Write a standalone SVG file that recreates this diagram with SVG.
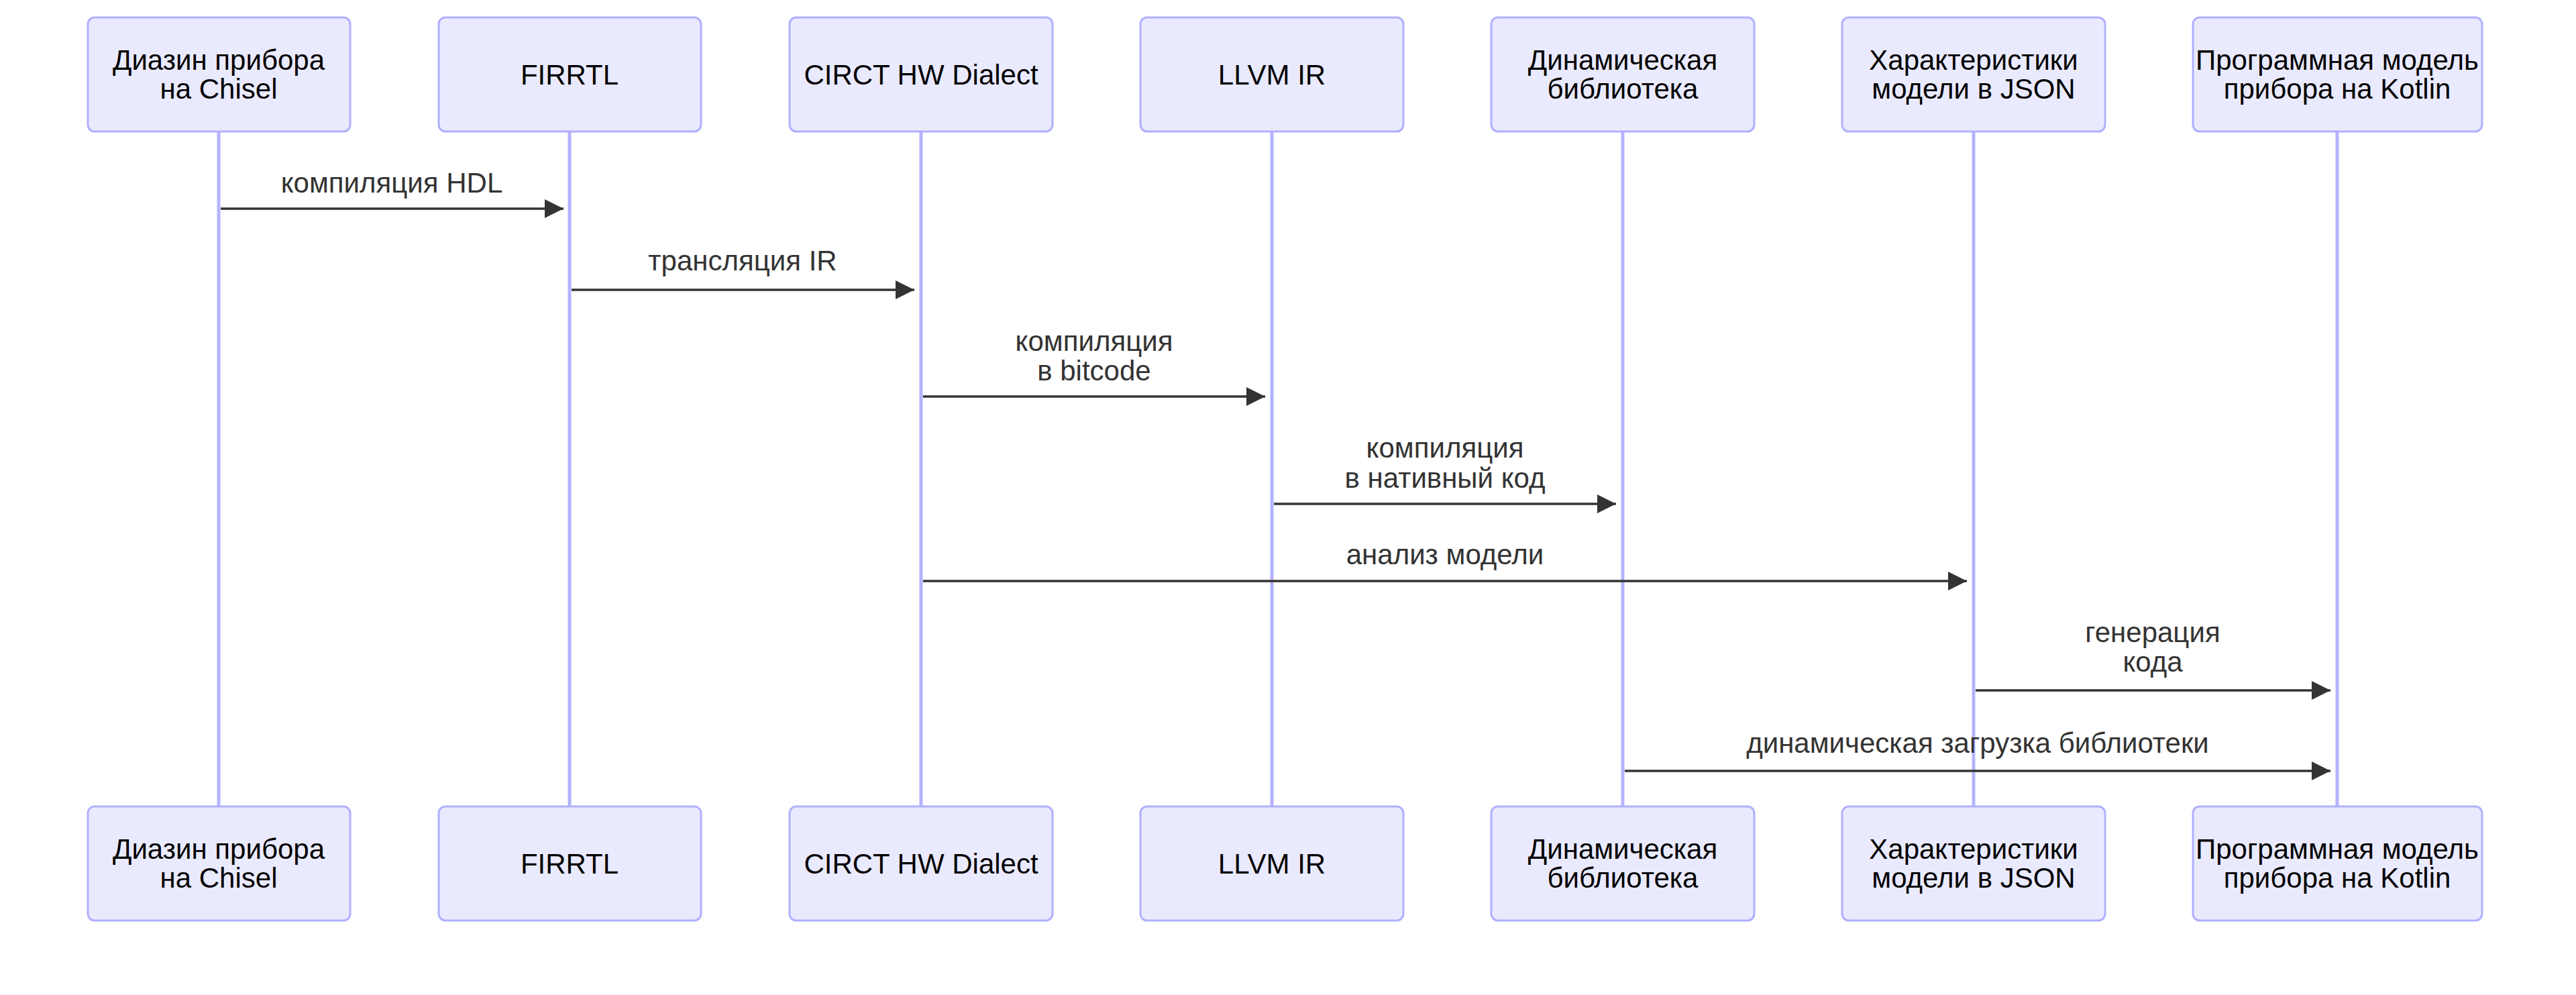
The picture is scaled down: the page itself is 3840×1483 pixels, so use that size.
<svg xmlns="http://www.w3.org/2000/svg" width="3840" height="1483" viewBox="0 0 3840 1483">
<style>
.actor{fill:#EAEAFF;stroke:#b0b0ff;stroke-width:3}
.atext{font-family:"Liberation Sans",Arial,sans-serif;font-size:42px;fill:#000;text-anchor:middle}
.life{stroke:#b3b3ff;stroke-width:5}
.msg{stroke:#333;stroke-width:3.5;fill:none}
.mtext{font-family:"Liberation Sans",Arial,sans-serif;font-size:42px;fill:#333;text-anchor:middle}
</style>
<defs>
<marker id="arrow" markerUnits="userSpaceOnUse" viewBox="0 0 10 10" refX="10" refY="5" markerWidth="28" markerHeight="28" orient="auto">
<path d="M0,0 L10,5 L0,10 z" fill="#333"/>
</marker>
</defs>
<rect width="3840" height="1483" fill="#fff"/>
<g id="lifelines">
<line class="life" x1="326" y1="196" x2="326" y2="1202"/>
<line class="life" x1="849" y1="196" x2="849" y2="1202"/>
<line class="life" x1="1373" y1="196" x2="1373" y2="1202"/>
<line class="life" x1="1896" y1="196" x2="1896" y2="1202"/>
<line class="life" x1="2419" y1="196" x2="2419" y2="1202"/>
<line class="life" x1="2942" y1="196" x2="2942" y2="1202"/>
<line class="life" x1="3484" y1="196" x2="3484" y2="1202"/>
</g>
<g id="actor-chisel">
<rect class="actor" x="131" y="26" width="391" height="170" rx="10"/>
<text class="atext" x="326" y="104">Диазин прибора</text>
<text class="atext" x="326" y="147">на Chisel</text>
<rect class="actor" x="131" y="1202" width="391" height="170" rx="10"/>
<text class="atext" x="326" y="1280">Диазин прибора</text>
<text class="atext" x="326" y="1323">на Chisel</text>
</g>
<g id="actor-firrtl">
<rect class="actor" x="654" y="26" width="391" height="170" rx="10"/>
<text class="atext" x="849" y="126">FIRRTL</text>
<rect class="actor" x="654" y="1202" width="391" height="170" rx="10"/>
<text class="atext" x="849" y="1302">FIRRTL</text>
</g>
<g id="actor-circt">
<rect class="actor" x="1177" y="26" width="392" height="170" rx="10"/>
<text class="atext" x="1373" y="126">CIRCT HW Dialect</text>
<rect class="actor" x="1177" y="1202" width="392" height="170" rx="10"/>
<text class="atext" x="1373" y="1302">CIRCT HW Dialect</text>
</g>
<g id="actor-llvm">
<rect class="actor" x="1700" y="26" width="392" height="170" rx="10"/>
<text class="atext" x="1896" y="126">LLVM IR</text>
<rect class="actor" x="1700" y="1202" width="392" height="170" rx="10"/>
<text class="atext" x="1896" y="1302">LLVM IR</text>
</g>
<g id="actor-lib">
<rect class="actor" x="2223" y="26" width="392" height="170" rx="10"/>
<text class="atext" x="2419" y="104">Динамическая</text>
<text class="atext" x="2419" y="147">библиотека</text>
<rect class="actor" x="2223" y="1202" width="392" height="170" rx="10"/>
<text class="atext" x="2419" y="1280">Динамическая</text>
<text class="atext" x="2419" y="1323">библиотека</text>
</g>
<g id="actor-json">
<rect class="actor" x="2746" y="26" width="392" height="170" rx="10"/>
<text class="atext" x="2942" y="104">Характеристики</text>
<text class="atext" x="2942" y="147">модели в JSON</text>
<rect class="actor" x="2746" y="1202" width="392" height="170" rx="10"/>
<text class="atext" x="2942" y="1280">Характеристики</text>
<text class="atext" x="2942" y="1323">модели в JSON</text>
</g>
<g id="actor-kotlin">
<rect class="actor" x="3269" y="26" width="431" height="170" rx="10"/>
<text class="atext" x="3484" y="104">Программная модель</text>
<text class="atext" x="3484" y="147">прибора на Kotlin</text>
<rect class="actor" x="3269" y="1202" width="431" height="170" rx="10"/>
<text class="atext" x="3484" y="1280">Программная модель</text>
<text class="atext" x="3484" y="1323">прибора на Kotlin</text>
</g>
<g id="messages">
<line class="msg" x1="329" y1="311" x2="840" y2="311" marker-end="url(#arrow)"/>
<text class="mtext" x="584" y="287">компиляция HDL</text>
<line class="msg" x1="852" y1="432" x2="1363" y2="432" marker-end="url(#arrow)"/>
<text class="mtext" x="1107" y="403">трансляция IR</text>
<line class="msg" x1="1376" y1="591" x2="1886" y2="591" marker-end="url(#arrow)"/>
<text class="mtext" x="1631" y="523">компиляция</text>
<text class="mtext" x="1631" y="567">в bitcode</text>
<line class="msg" x1="1899" y1="751" x2="2409" y2="751" marker-end="url(#arrow)"/>
<text class="mtext" x="2154" y="682">компиляция</text>
<text class="mtext" x="2154" y="727">в нативный код</text>
<line class="msg" x1="1376" y1="866" x2="2932" y2="866" marker-end="url(#arrow)"/>
<text class="mtext" x="2154" y="841">анализ модели</text>
<line class="msg" x1="2945" y1="1029" x2="3474" y2="1029" marker-end="url(#arrow)"/>
<text class="mtext" x="3209" y="957">генерация</text>
<text class="mtext" x="3209" y="1001">кода</text>
<line class="msg" x1="2422" y1="1149" x2="3474" y2="1149" marker-end="url(#arrow)"/>
<text class="mtext" x="2948" y="1122">динамическая загрузка библиотеки</text>
</g>
</svg>
